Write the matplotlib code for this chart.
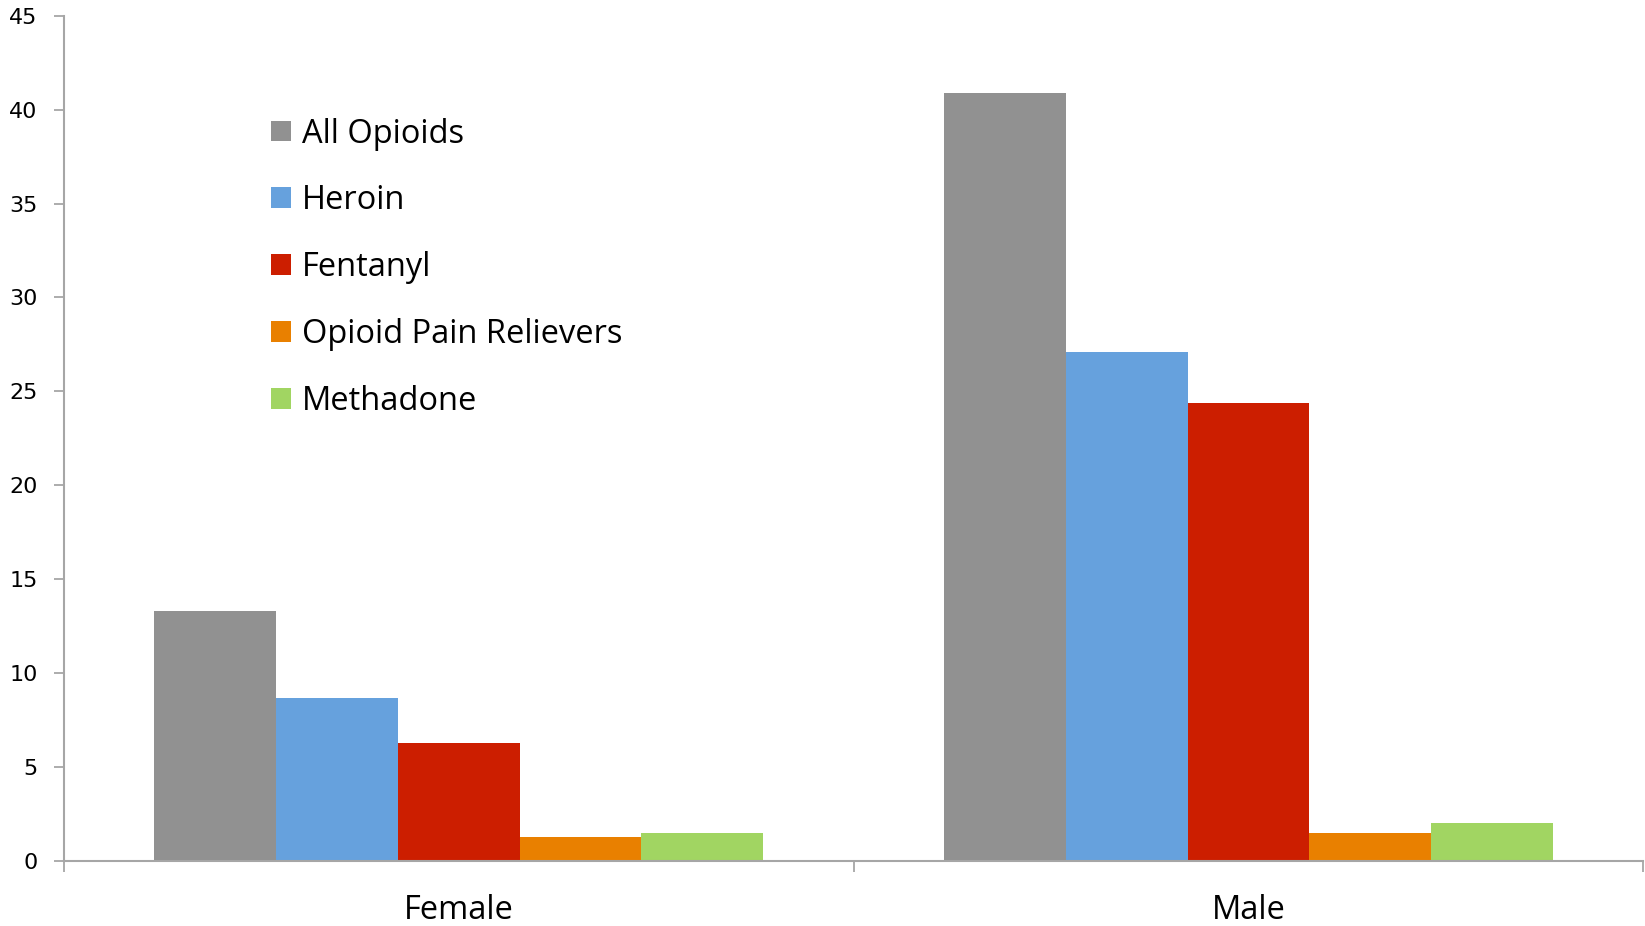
import matplotlib
matplotlib.use("Agg")
import matplotlib.pyplot as plt
import numpy as np

# Death rates by sex and opioid type
groups = ["Female", "Male"]
series = ["All Opioids", "Heroin", "Fentanyl", "Opioid Pain Relievers", "Methadone"]
all_opioids = [13.3, 40.9]
heroin = [8.7, 27.1]
fentanyl = [6.3, 24.4]
pain_relievers = [1.3, 1.5]
methadone = [1.5, 2.0]
y_ticks = [0, 5, 10, 15, 20, 25, 30, 35, 40, 45]

colors = ["#919191", "#66A1DD", "#CC1E00", "#E98000", "#A1D562"]
values = [all_opioids, heroin, fentanyl, pain_relievers, methadone]

fig = plt.figure(figsize=(16.45, 9.26), dpi=100)
ax = fig.add_axes([0.0389, 0.0702, 0.96, 0.9128])

x = np.arange(len(groups))
width = 0.1542
for i, (name, vals, c) in enumerate(zip(series, values, colors)):
    ax.bar(x + (i - 2) * width, vals, width, color=c, label=name,
           edgecolor="none", zorder=2)

ax.set_xlim(-0.5, len(groups) - 0.5)
ax.set_ylim(0, 45)
ax.set_yticks(y_ticks)
ax.set_yticklabels([str(t) for t in y_ticks], fontsize=16, family="DejaVu Sans")

# category labels centred under each group, ticks on the boundaries
ax.set_xticks(np.arange(-0.5, len(groups), 1.0))
ax.set_xticklabels([])
ax.set_xticks(x, minor=True)
ax.set_xticklabels(groups, minor=True, fontsize=23.5, family="Open Sans")
ax.tick_params(axis="x", which="minor", length=0, pad=24)
ax.tick_params(axis="x", which="major", length=8, width=1.3, color="#A6A6A6")
ax.tick_params(axis="y", length=7, width=1.3, color="#A6A6A6", pad=12)

for side in ["top", "right"]:
    ax.spines[side].set_visible(False)
for side in ["left", "bottom"]:
    ax.spines[side].set_color("#A6A6A6")
    ax.spines[side].set_linewidth(1.5)

leg = ax.legend(loc="upper left", bbox_to_anchor=(0.123, 0.895), frameon=False,
                prop={"family": "Open Sans", "size": 23.5},
                handlelength=0.6, handleheight=0.6, handletextpad=0.35,
                labelspacing=1.035, borderaxespad=0)

fig.savefig("out.png", dpi=100, facecolor="white")
